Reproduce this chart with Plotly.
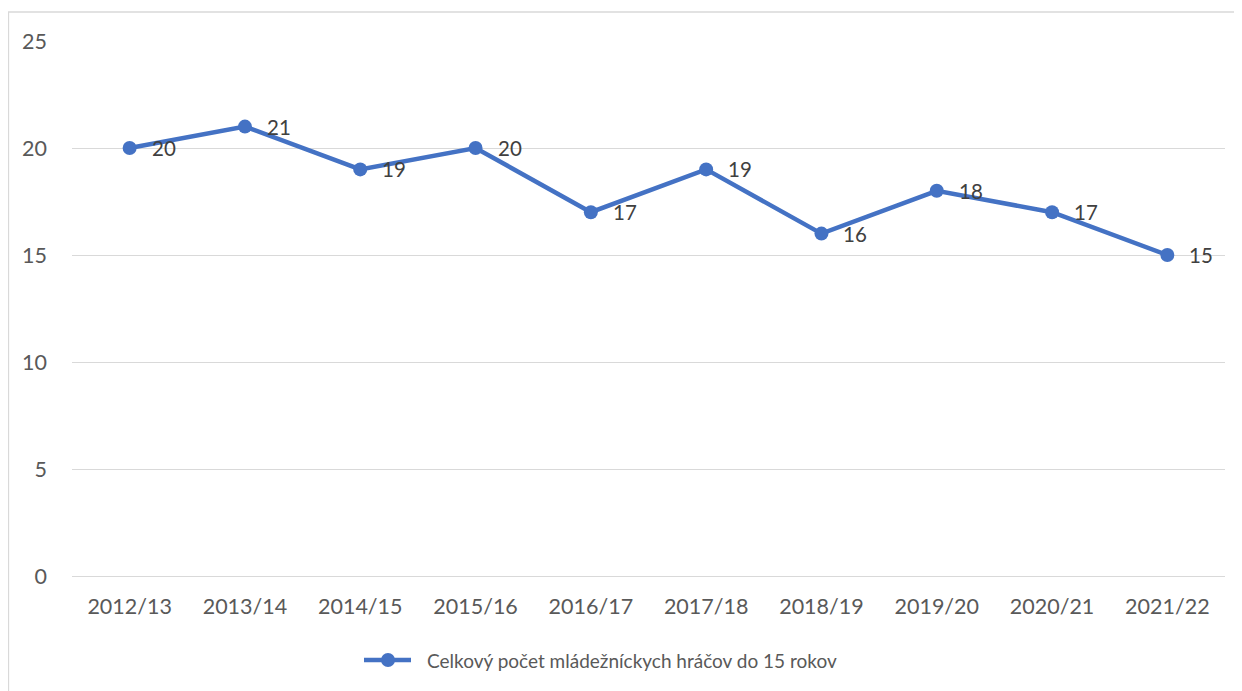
import plotly.graph_objects as go

seasons = ["2012/13", "2013/14", "2014/15", "2015/16", "2016/17",
           "2017/18", "2018/19", "2019/20", "2020/21", "2021/22"]
players = [20, 21, 19, 20, 17, 19, 16, 18, 17, 15]
series_name = "Celkový počet mládežníckych hráčov do 15 rokov"
y_ticks = [0, 5, 10, 15, 20, 25]

# page has an 8px body margin; figure is placed at (8, 8)
OFF = 8
W, H = 1234, 683
L, R, T, B = 64, 17, 33, 115
pw, ph = W - L - R, H - T - B

line_color = "#4472C4"
text_color = "#595959"
grid_color = "#D9D9D9"
font_family = "Lato, 'Open Sans', 'Liberation Sans', sans-serif"


def pxp(px):
    return (px - OFF - L) / pw


def pyp(py):
    return (H - B - (py - OFF)) / ph


fig = go.Figure()
fig.add_trace(go.Scatter(
    x=seasons, y=players, mode="lines+markers", name=series_name,
    line=dict(color=line_color, width=4.5),
    marker=dict(color=line_color, size=14),
    showlegend=False,
))

for s, v in zip(seasons, players):
    fig.add_annotation(x=s, y=v, text=str(v), showarrow=False,
                       xanchor="left", yanchor="middle", xshift=20, yshift=0,
                       font=dict(size=20.5, color="#404040", family=font_family))

# chart border
fig.add_shape(type="rect", xref="paper", yref="paper",
              x0=pxp(8.5), x1=pxp(1240.5), y0=pyp(700), y1=pyp(12),
              line=dict(color=grid_color, width=1.3), fillcolor="rgba(0,0,0,0)",
              layer="below")

# custom legend (Excel style: long line with centered marker)
ly = pyp(660)
fig.add_shape(type="line", xref="paper", yref="paper",
              x0=pxp(364), x1=pxp(411), y0=ly, y1=ly,
              line=dict(color=line_color, width=4.5))
fig.add_shape(type="circle", xref="paper", yref="paper",
              x0=pxp(381), x1=pxp(395), y0=pyp(667), y1=pyp(653),
              line=dict(color=line_color, width=0), fillcolor=line_color)
fig.add_annotation(xref="paper", yref="paper", x=pxp(425), y=ly,
                   text=series_name, showarrow=False, xanchor="left", yanchor="middle",
                   font=dict(size=19, color=text_color, family=font_family))

fig.update_layout(
    width=W, height=H,
    margin=dict(l=L, r=R, t=T, b=B),
    paper_bgcolor="white", plot_bgcolor="white",
    font=dict(family=font_family, size=21, color=text_color),
    showlegend=False,
    xaxis=dict(type="category", range=[-0.5, 9.5], showgrid=False,
               showline=True, linecolor=grid_color, linewidth=1.3,
               ticks="", ticklabelstandoff=11, tickfont=dict(size=21.5, color=text_color),
               zeroline=False, fixedrange=True),
    yaxis=dict(range=[0, 25], tickvals=y_ticks, showgrid=True, gridcolor=grid_color,
               gridwidth=1.3, showline=False, zeroline=False, ticks="",
               ticklabelstandoff=24, tickfont=dict(size=21.5, color=text_color),
               fixedrange=True),
)

fig.write_html("out.html")
